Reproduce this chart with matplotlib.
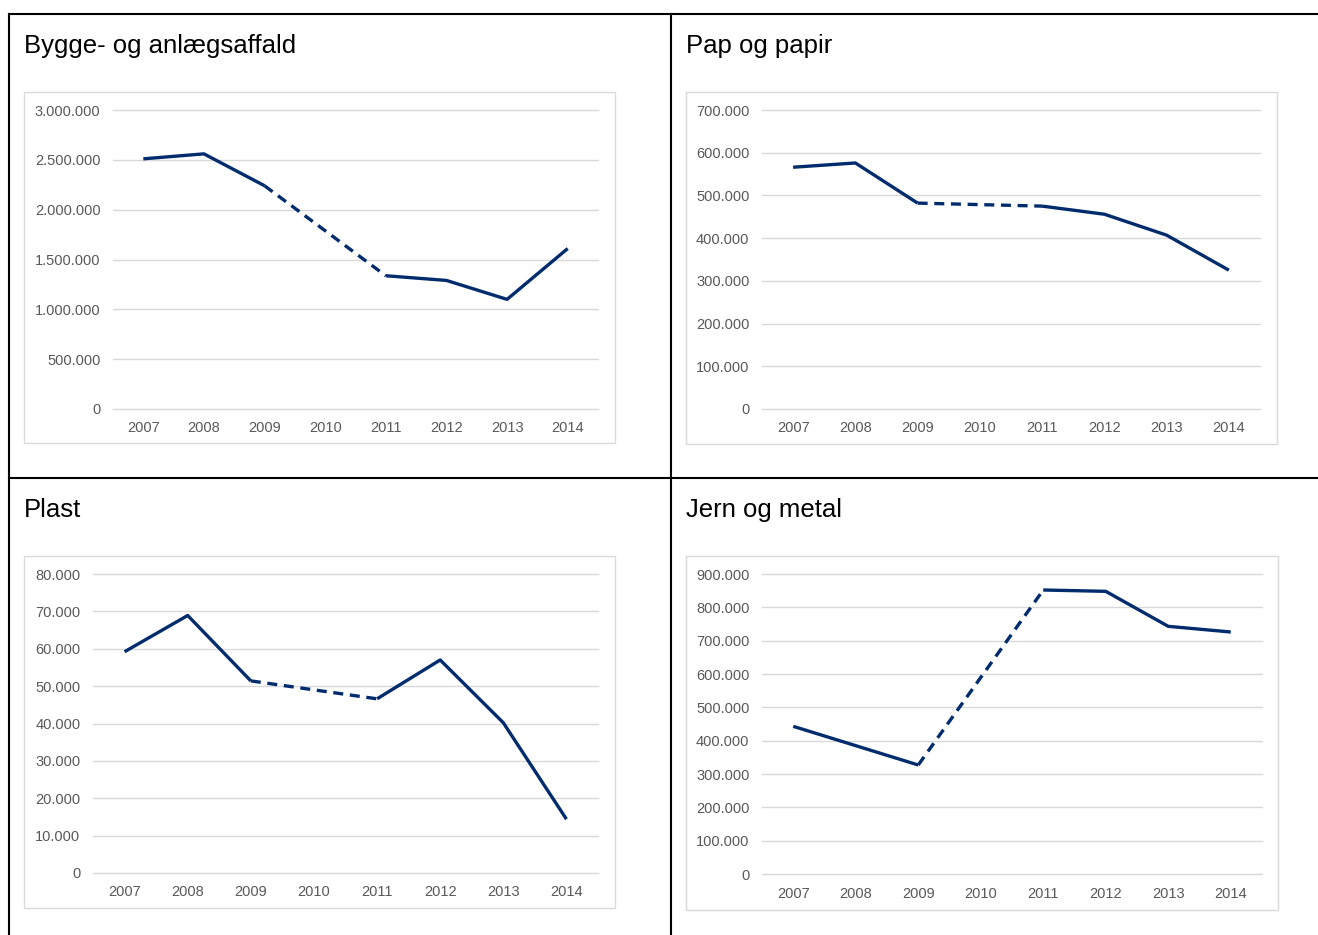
"""Fire paneler: affaldsmængder 2007-2014 (2010 mangler, vist stiplet)."""
import matplotlib
matplotlib.use("Agg")
import matplotlib.pyplot as plt
import numpy as np
from matplotlib.lines import Line2D
from matplotlib.patches import Rectangle
from matplotlib.ticker import FuncFormatter, MultipleLocator

plt.rcParams["font.family"] = ["Liberation Sans", "DejaVu Sans"]

years = ["2007", "2008", "2009", "2010", "2011", "2012", "2013", "2014"]

# tons, 2010 not reported
bygge = [2510000, 2560000, 2240000, np.nan, 1337000, 1290000, 1100000, 1610000]
pap = [566000, 576000, 482000, np.nan, 475000, 456000, 407000, 325000]
plast = [59200, 68900, 51400, np.nan, 46600, 57000, 40200, 14400]
jern = [443000, 385000, 327000, np.nan, 852000, 848000, 743000, 726000]

titles = ["Bygge- og anlægsaffald", "Pap og papir", "Plast", "Jern og metal"]
series = [bygge, pap, plast, jern]
y_max = [3000000, 700000, 80000, 900000]
y_step = [500000, 100000, 10000, 100000]

W, H = 1318, 935
LINE = "#002C6E"
GRID = "#D9D9D9"
TICK = "#595959"

# pixel boxes: (chart frame), (plot area), title anchor
frames = [(24, 92, 615, 443), (686, 92, 1277, 444), (24, 556, 615, 908), (686, 556, 1278, 910)]
plots = [(113, 110, 598, 409), (762, 110, 1260, 409), (93, 574, 598, 873), (762, 574, 1262, 874)]
title_pos = [(24, 46), (686, 46), (24, 510), (686, 510)]


def fx(px):
    return px / W


def fy(py):
    return 1 - py / H


def thousands(v, _pos):
    return f"{int(round(v)):,}".replace(",", ".")


fig = plt.figure(figsize=(W / 100, H / 100), dpi=100)

# table borders
for x0, y0, x1, y1 in [(9, 14, W, 14), (9, 478, W, 478), (9, 14, 9, H), (671, 14, 671, H)]:
    fig.add_artist(Line2D([fx(x0), fx(x1)], [fy(y0), fy(y1)], color="black", lw=1.5))

for i in range(4):
    l, t, r, b = frames[i]
    fig.add_artist(Rectangle((fx(l), fy(b)), fx(r - l), (b - t) / H,
                             fill=False, edgecolor=GRID, lw=1))
    tx, ty = title_pos[i]
    fig.text(fx(tx), fy(ty), titles[i], fontsize=18.5, color="black", ha="left", va="center")

    l, t, r, b = plots[i]
    ax = fig.add_axes([fx(l), fy(b), fx(r - l), (b - t) / H])
    x = np.arange(len(years))
    y = np.array(series[i], dtype=float)
    ax.plot(x, y, color=LINE, lw=2.4, solid_capstyle="butt", zorder=3)
    # dashed bridge over the missing year
    valid = np.where(~np.isnan(y))[0]
    for a, c in zip(valid[:-1], valid[1:]):
        if c - a > 1:
            ax.plot([x[a], x[c]], [y[a], y[c]], color=LINE, lw=2.4,
                    dashes=(3, 2), dash_capstyle="butt", zorder=3)

    ax.set_xlim(-0.5, len(years) - 0.5)
    ax.set_ylim(0, y_max[i])
    ax.set_xticks(x)
    ax.set_xticklabels(years)
    ax.yaxis.set_major_locator(MultipleLocator(y_step[i]))
    ax.yaxis.set_major_formatter(FuncFormatter(thousands))
    ax.grid(axis="y", color=GRID, lw=1)
    for g in ax.yaxis.get_gridlines():
        g.set_clip_on(False)
    ax.set_axisbelow(True)
    for s in ax.spines.values():
        s.set_visible(False)
    ax.tick_params(axis="both", length=0, colors=TICK, labelsize=10.5)
    ax.tick_params(axis="x", pad=9)
    ax.tick_params(axis="y", pad=9)
    ax.patch.set_visible(False)

fig.savefig("out.png", dpi=100)
